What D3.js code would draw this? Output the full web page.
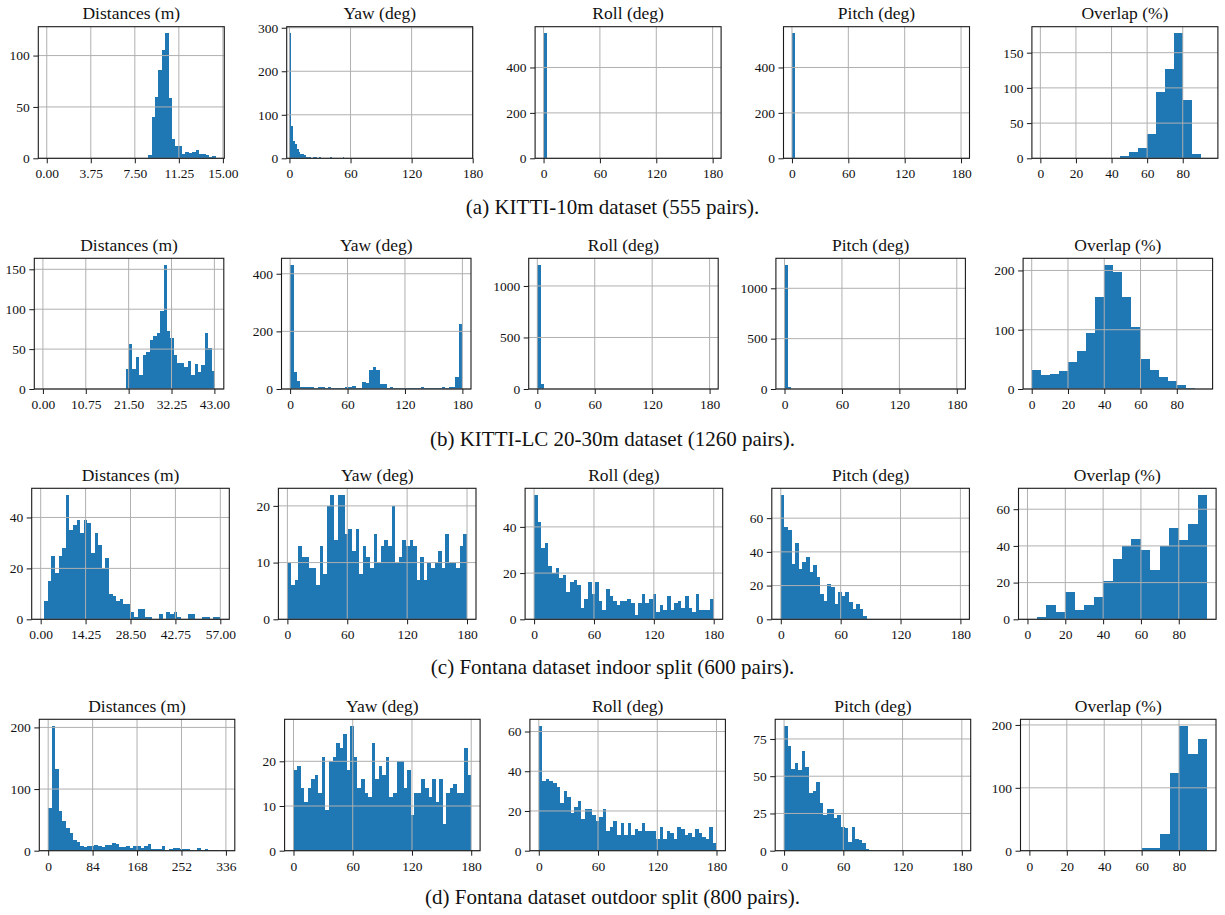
<!DOCTYPE html>
<html><head><meta charset="utf-8">
<script src="https://cdn.jsdelivr.net/npm/d3@7"></script>
<style>
body{margin:0;background:#fff;}
svg text{font-family:"Liberation Serif","Times New Roman",serif;fill:#111;}
.tick text{font-size:13.5px;}
.ptitle{font-size:17.5px;}
.caption{font-size:21px;}
</style></head><body>
<svg id="chart" width="1225" height="915"></svg>
<script>
// ---------- text ----------
const panelTitles = ["Distances (m)", "Yaw (deg)", "Roll (deg)", "Pitch (deg)", "Overlap (%)"];
const rowCaptions = [
  "(a) KITTI-10m dataset (555 pairs).",
  "(b) KITTI-LC 20-30m dataset (1260 pairs).",
  "(c) Fontana dataset indoor split (600 pairs).",
  "(d) Fontana dataset outdoor split (800 pairs)."
];

// ---------- tick values ----------
const angleTicks = [0, 60, 120, 180];
const overlapTicks = [0, 20, 40, 60, 80];
const distTicksA = [0, 3.75, 7.5, 11.25, 15];
const distTicksB = [0, 10.75, 21.5, 32.25, 43];
const distTicksC = [0, 14.25, 28.5, 42.75, 57];
const distTicksD = [0, 84, 168, 252, 336];
const yTicksA = [[0, 50, 100], [0, 100, 200, 300], [0, 200, 400], [0, 200, 400], [0, 50, 100, 150]];
const yTicksB = [[0, 50, 100, 150], [0, 200, 400], [0, 500, 1000], [0, 500, 1000], [0, 100, 200]];
const yTicksC = [[0, 20, 40], [0, 10, 20], [0, 20, 40], [0, 20, 40, 60], [0, 20, 40, 60]];
const yTicksD = [[0, 100, 200], [0, 10, 20], [0, 20, 40, 60], [0, 25, 50, 75], [0, 100, 200]];

// ---------- bin widths (bins start at 0) ----------
const binWidthsA = [0.288, 1.8, 3.6, 3.6, 5];
const binWidthsB = [0.864, 3.6, 3.6, 3.6, 5];
const binWidthsC = [1.14, 3.6, 3.6, 3.6, 5];
const binWidthsD = [6.72, 3.6, 3.6, 3.6, 5];

// ---------- (a) KITTI-10m counts ----------
const a_dist = [0,0,0,0,0,0,0,0,0,0, 0,0,0,0,0,0,0,0,0,0, 0,0,0,0,0,0,0,0,0,0,
                3,40,60,86,105,122,59,19,12,12, 4,6,5,6,8,4,4,3,1,2];
const a_yaw = [288,75,40,32,22,15,10,10,8,3, 2,3,1,3,2,1,4,1,0,1, 0,0,3,0,1,0,0,0,0,3];
const a_roll = [552,3,0,0,0,0,0,0,0,0, 0,0,0,0,0,0,0,0,0,0, 0,0,0,0,0,0,0,0,0,0,
                0,0,0,0,0,0,0,0,0,0, 0,0,0,0,0,0,0,0,0,0];
const a_pitch = [552,3,0,0,0,0,0,0,0,0, 0,0,0,0,0,0,0,0,0,0, 0,0,0,0,0,0,0,0,0,0,
                 0,0,0,0,0,0,0,0,0,0, 0,0,0,0,0,0,0,0,0,0];
const a_overlap = [0,0,0,0,0,0,0,0,0,3, 9,15,35,94,127,178,83,6,0];

// ---------- (b) KITTI-LC 20-30m counts ----------
const b_dist = [0,0,0,0,0,0,0,0,0,0, 0,0,0,0,0,0,0,0,0,0, 0,0,0,0,
                25,57,25,40,17,43,46,62,67,70, 98,156,73,64,42,32,33,27,35,17, 31,21,30,70,52,22];
const b_yaw = [432,60,29,8,7,7,7,5,7,6, 5,7,4,5,4,5,8,6,9,4, 5,25,22,66,77,66,18,18,3,7,
               3,4,3,3,4,3,4,3,6,3, 4,4,3,4,7,3,7,6,40,226];
const b_roll = [1208,48,0,0,0,0,0,0,0,0, 0,0,0,0,0,0,0,0,0,0, 0,0,0,0,0,0,0,0,0,0,
                0,0,0,0,0,0,0,0,0,0, 0,0,0,0,0,0,0,0,0,0];
const b_pitch = [1236,20,0,0,0,0,0,0,0,0, 0,0,0,0,0,0,0,0,0,0, 0,0,0,0,0,0,0,0,0,0,
                 0,0,0,0,0,0,0,0,0,0, 0,0,0,0,0,0,0,0,0,0];
const b_overlap = [32,23,25,30,45,64,94,155,210,197, 156,104,50,32,20,13,7,2,0];

// ---------- (c) Fontana indoor counts ----------
const c_dist = [0,7,15,25,18,25,28,49,35,37, 39,34,39,38,26,34,29,20,24,10, 9,7,8,6,6,3,1,4,4,1,
                1,0,0,2,0,3,2,3,1,0, 0,2,2,0,0,1,1,0,1,1];
const c_yaw = [10,6,7,13,11,11,9,9,6,13, 8,20,22,14,22,22,15,16,12,16, 8,13,11,9,15,10,13,14,13,20,
               10,11,14,13,14,13,7,11,7,10, 9,10,12,9,15,10,10,9,13,15];
const c_roll = [54,42,31,33,23,20,22,18,19,12, 16,17,15,5,9,16,11,16,8,4, 13,10,8,6,8,8,9,7,2,7,
                11,7,9,11,3,6,4,10,4,7, 8,5,10,5,3,11,4,4,4,9];
const c_pitch = [74,55,53,33,45,30,34,37,28,32, 25,15,11,21,19,9,16,14,16,10, 6,9,6,2,0,0,0,0,0,0,
                 0,0,0,0,0,0,0,0,0,0, 0,0,0,0,0,0,0,0,0,0];
const c_overlap = [0,1,8,4,15,5,8,12,21,33, 40,44,38,27,40,50,43,52,68];

// ---------- (d) Fontana outdoor counts ----------
const d_dist = [69,203,133,64,48,37,28,17,14,7, 6,7,7,9,8,6,9,9,12,11, 6,6,7,5,7,7,5,7,11,3,
                3,3,7,0,2,5,4,3,3,3, 1,0,4,1,2,1,1,1,0,1];
const d_yaw = [18,19,14,11,14,16,17,13,21,9, 20,21,24,23,26,18,28,21,14,16, 13,12,24,16,19,17,21,12,13,20,
               20,14,18,8,13,13,16,14,12,16, 11,16,6,13,14,15,13,13,23,17];
const d_roll = [63,35,36,35,34,32,24,30,27,19, 22,25,16,21,21,18,15,17,21,10, 12,15,8,14,8,14,8,11,10,14,
                10,10,10,6,12,6,10,9,6,12, 11,8,9,7,11,9,7,6,12,4];
const d_pitch = [84,70,55,59,54,67,56,39,40,46, 32,24,28,28,22,24,16,15,6,16, 8,7,5,1,0,0,0,0,0,0,
                 0,0,0,0,0,0,0,0,0,0, 0,0,0,0,0,0,0,0,0,0];
const d_overlap = [0,0,0,0,0,0,0,0,0,0, 0,0,4,4,26,124,199,153,178];

// ---------- assemble ----------
const rowsSpec = [
  {counts: [a_dist, a_yaw, a_roll, a_pitch, a_overlap], widths: binWidthsA,
   xt: [distTicksA, angleTicks, angleTicks, angleTicks, overlapTicks], yt: yTicksA, distFmt: ".2f"},
  {counts: [b_dist, b_yaw, b_roll, b_pitch, b_overlap], widths: binWidthsB,
   xt: [distTicksB, angleTicks, angleTicks, angleTicks, overlapTicks], yt: yTicksB, distFmt: ".2f"},
  {counts: [c_dist, c_yaw, c_roll, c_pitch, c_overlap], widths: binWidthsC,
   xt: [distTicksC, angleTicks, angleTicks, angleTicks, overlapTicks], yt: yTicksC, distFmt: ".2f"},
  {counts: [d_dist, d_yaw, d_roll, d_pitch, d_overlap], widths: binWidthsD,
   xt: [distTicksD, angleTicks, angleTicks, angleTicks, overlapTicks], yt: yTicksD, distFmt: "d"}
];

// layout (pixel geometry of each row of panels)
const layouts = [
  {top: 26.7, bottom: 158.3, left: 38.3, step: 248.4, w: 186, capY: 214},
  {top: 258.3, bottom: 389, left: 34.3, step: 247.2, w: 189.5, capY: 446},
  {top: 488.3, bottom: 619.3, left: 31.7, step: 246.7, w: 197.6, capY: 674},
  {top: 719.3, bottom: 850.7, left: 39.3, step: 245.3, w: 195.5, capY: 904}
];

const FONT = '"Liberation Serif","Times New Roman",serif';
const svg = d3.select("#chart");
const BAR = "#1f77b4", GRID = "#b0b0b0", INK = "#1a1a1a";

rowsSpec.forEach((row, r) => {
  const L = layouts[r];
  const h = L.bottom - L.top;
  row.counts.forEach((counts, c) => {
    const bw = row.widths[c];
    const R = counts.length * bw;
    const xt = row.xt[c], yt = row.yt[c];
    const x = d3.scaleLinear()
      .domain([Math.min(-0.05 * R, xt[0]), Math.max(1.05 * R, xt[xt.length - 1])])
      .range([0, L.w]);
    const y = d3.scaleLinear().domain([0, d3.max(counts) * 1.05]).range([h, 0]);
    const g = svg.append("g").attr("transform", `translate(${L.left + c * L.step},${L.top})`);

    const bins = counts.map((v, i) => ({v, i})).filter(d => d.v > 0);
    g.append("g").selectAll("rect").data(bins).join("rect")
      .attr("x", d => x(d.i * bw))
      .attr("width", d => x((d.i + 1) * bw) - x(d.i * bw))
      .attr("y", d => y(d.v))
      .attr("height", d => y(0) - y(d.v))
      .attr("fill", BAR)
      .attr("shape-rendering", "crispEdges");

    // grid (drawn above bars, like matplotlib's default)
    const grid = g.append("g").attr("stroke", GRID).attr("stroke-width", 1);
    grid.selectAll("line.gx").data(xt).join("line").attr("class", "gx")
      .attr("x1", d => x(d)).attr("x2", d => x(d)).attr("y1", 0).attr("y2", h);
    grid.selectAll("line.gy").data(yt).join("line").attr("class", "gy")
      .attr("x1", 0).attr("x2", L.w).attr("y1", d => y(d)).attr("y2", d => y(d));

    const xFmt = (c === 0) ? d3.format(row.distFmt) : d3.format("d");
    g.append("g").attr("transform", `translate(0,${h})`).style("color", INK)
      .call(d3.axisBottom(x).tickValues(xt).tickFormat(xFmt).tickSize(5).tickPadding(5.5))
      .call(s => s.select(".domain").remove())
      .attr("font-family", FONT).attr("font-size", 13.5);
    g.append("g").style("color", INK)
      .call(d3.axisLeft(y).tickValues(yt).tickFormat(d3.format("d")).tickSize(5).tickPadding(3.5))
      .call(s => s.select(".domain").remove())
      .attr("font-family", FONT).attr("font-size", 13.5);

    g.append("rect").attr("width", L.w).attr("height", h)
      .attr("fill", "none").attr("stroke", INK).attr("stroke-width", 1.1);

    g.append("text").attr("class", "ptitle")
      .attr("font-family", FONT).attr("font-size", 17.5)
      .attr("x", L.w / 2).attr("y", -7.5).attr("text-anchor", "middle")
      .text(panelTitles[c]);
  });
  svg.append("text").attr("class", "caption")
    .attr("font-family", FONT).attr("font-size", 21)
    .attr("x", 612.5).attr("y", L.capY).attr("text-anchor", "middle")
    .text(rowCaptions[r]);
});
</script>
</body></html>
